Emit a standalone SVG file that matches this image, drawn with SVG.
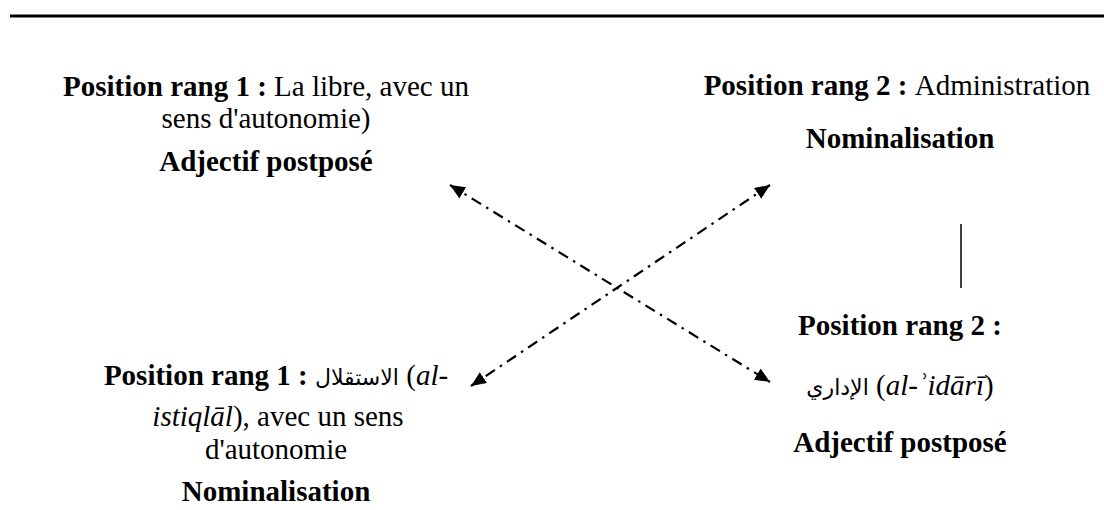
<svg xmlns="http://www.w3.org/2000/svg" width="1104" height="510" viewBox="0 0 1104 510">
<style>
  text { font-family: "Liberation Serif", "DejaVu Sans", serif; font-size: 29px; fill: #000; text-anchor: middle; }
  .b { font-weight: bold; }
  .i { font-style: italic; }
  .ar { font-family: "DejaVu Sans", "Noto Sans", sans-serif; font-size: 22px; }
  .conn { stroke: #000; stroke-width: 2.2; fill: none; stroke-dasharray: 11 6 2.5 6; }
</style>
<defs>
  <marker id="ah" markerUnits="userSpaceOnUse" markerWidth="16" markerHeight="13" refX="15" refY="6.5" orient="auto-start-reverse">
    <path d="M0,0 L15,6.5 L0,13 z" fill="#000"/>
  </marker>
</defs>
<rect width="1104" height="510" fill="#fff"/>
<line x1="10" y1="16" x2="1104" y2="16" stroke="#000" stroke-width="3"/>

<g id="node-tl">
  <text x="266" y="96"><tspan class="b">Position rang 1 : </tspan>La libre, avec un</text>
  <text x="266" y="128">sens d'autonomie)</text>
  <text x="266" y="171" class="b">Adjectif postposé</text>
</g>

<g id="node-tr">
  <text x="897" y="95"><tspan class="b">Position rang 2 : </tspan>Administration</text>
  <text x="900" y="148" class="b">Nominalisation</text>
</g>

<g id="node-bl">
  <text x="276" y="385"><tspan class="b">Position rang 1 : </tspan><tspan class="ar">الاستقلال</tspan> (<tspan class="i">al-</tspan></text>
  <text x="278" y="426"><tspan class="i">istiqlāl</tspan>), avec un sens</text>
  <text x="276" y="459">d'autonomie</text>
  <text x="276" y="501" class="b">Nominalisation</text>
</g>

<g id="node-br">
  <text x="900" y="335" class="b">Position rang 2 :</text>
  <text x="900" y="395"><tspan class="ar">الإداري</tspan> (<tspan class="i">al-ʾidārī</tspan>)</text>
  <text x="900" y="452" class="b">Adjectif postposé</text>
</g>

<g id="connectors">
  <line class="conn" x1="450" y1="185" x2="770" y2="382" marker-start="url(#ah)" marker-end="url(#ah)"/>
  <line class="conn" x1="770" y1="185" x2="471" y2="386" marker-start="url(#ah)" marker-end="url(#ah)"/>
  <line x1="961" y1="224" x2="961" y2="288" stroke="#000" stroke-width="1.5"/>
</g>
</svg>
